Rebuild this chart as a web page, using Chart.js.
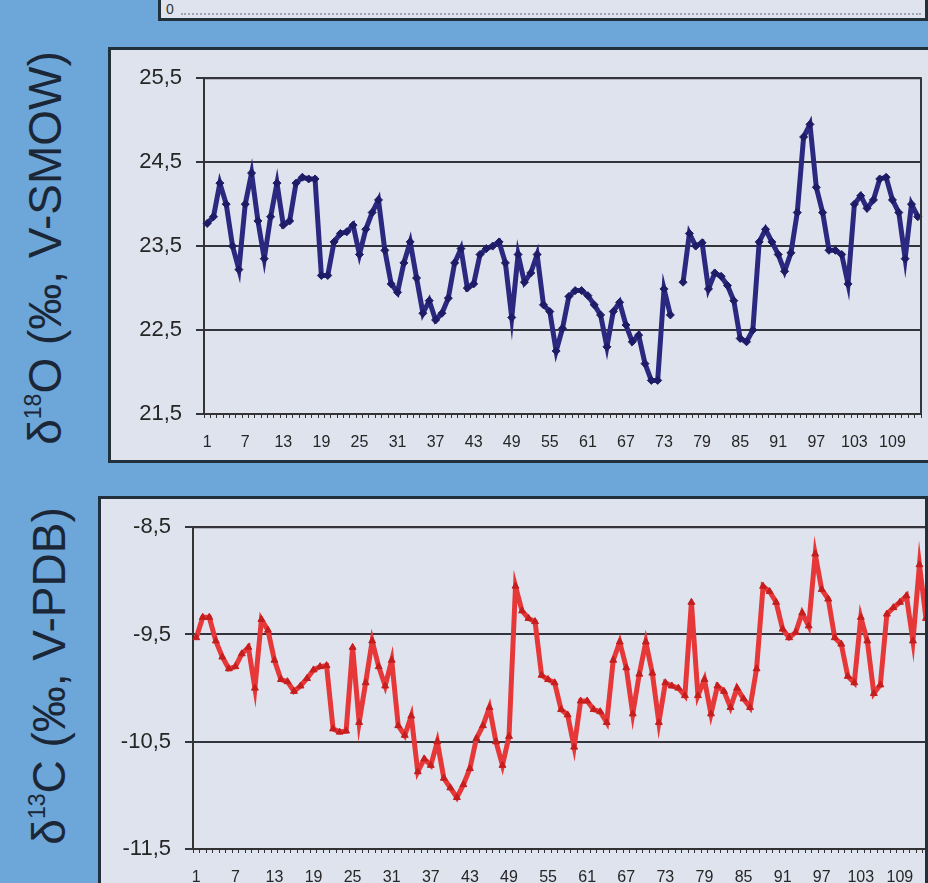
<!DOCTYPE html>
<html>
<head>
<meta charset="utf-8">
<script src="https://cdn.jsdelivr.net/npm/chart.js@4.4.1/dist/chart.umd.min.js"></script>
<style>
  html, body { margin: 0; padding: 0; }
  body {
    width: 928px; height: 883px; overflow: hidden; position: relative;
    background: #6da6d9; font-family: 'Liberation Sans', Arial, sans-serif;
  }
  .panel {
    position: absolute; box-sizing: border-box; overflow: hidden;
    background: #dfe3ee; border: 3px solid #22303c;
  }
  .panel canvas { position: absolute; }
  .axis-title {
    position: absolute; white-space: nowrap; color: #1b2636;
    font-size: 46px; line-height: 1;
    transform: translate(-50%, -50%) rotate(-90deg);
  }
  .axis-title sup { font-size: 0.5em; vertical-align: 0.9em; }
  #sliver-zero { position: absolute; left: 5px; font-size: 14px; color: #333; }
  #sliver-axis { position: absolute; left: 20px; right: 4px; border-top: 2px dotted #9aa6b8; }
</style>
</head>
<body>

<div class="panel" id="panel-prev" style="left:158px; top:-20px; width:770px; height:41px;">
  <div id="sliver-zero" style="top:18px;">0</div>
  <div id="sliver-axis" style="top:30px;"></div>
</div>

<div class="axis-title" style="left:45px; top:248px;">δ<sup>18</sup>O (‰, V-SMOW)</div>
<div class="panel" id="panel-o" style="left:108px; top:47px; width:900px; height:416px;">
  <canvas id="oxygenChart" width="830" height="409" style="left:0; top:1px;"></canvas>
</div>

<div class="axis-title" style="left:49px; top:676px;">δ<sup>13</sup>C (‰, V-PDB)</div>
<div class="panel" id="panel-c" style="left:98px; top:496px; width:830px; height:420px;">
  <canvas id="carbonChart" width="840" height="395" style="left:0; top:1px;"></canvas>
</div>

<script>
// --- Data ---
const sampleCount = 113;
const categories = Array.from({ length: sampleCount }, (_, i) => String(i + 1));
const shownTicks = ['1', '7', '13', '19', '25', '31', '37', '43', '49', '55', '61', '67', '73', '79', '85', '91', '97', '103', '109'];

// d18O, permil V-SMOW (one gap at sample 75)
const oxygenValues = [
    23.77, 23.85, 24.25, 24.0, 23.5, 23.22, 24.0, 24.37, 23.8, 23.35,
    23.85, 24.25, 23.75, 23.8, 24.25, 24.32, 24.3, 24.3, 23.15, 23.15,
    23.55, 23.65, 23.67, 23.75, 23.4, 23.7, 23.9, 24.05, 23.45, 23.05,
    22.95, 23.3, 23.55, 23.12, 22.7, 22.85, 22.62, 22.7, 22.88, 23.3,
    23.47, 23.0, 23.05, 23.4, 23.47, 23.5, 23.55, 23.3, 22.65, 23.4,
    23.07, 23.18, 23.4, 22.8, 22.72, 22.25, 22.52, 22.9, 22.97, 22.97,
    22.91, 22.8, 22.68, 22.3, 22.72, 22.83, 22.56, 22.36, 22.44, 22.1,
    21.9, 21.9, 22.99, 22.68, null, 23.07, 23.65, 23.5, 23.54, 22.99,
    23.18, 23.14, 23.03, 22.85, 22.4, 22.36, 22.5, 23.55, 23.7, 23.55,
    23.4, 23.2, 23.42, 23.9, 24.8, 24.95, 24.2, 23.9, 23.45, 23.45,
    23.4, 23.05, 24.0, 24.1, 23.95, 24.05, 24.3, 24.32, 24.05, 23.9,
    23.35, 24.0, 23.85
];

// d13C, permil V-PDB
const carbonValues = [
    -9.53, -9.34, -9.34, -9.56, -9.71, -9.82, -9.8, -9.68, -9.62, -10.0,
    -9.36, -9.46, -9.74, -9.92, -9.94, -10.03, -9.98, -9.91, -9.83, -9.8,
    -9.79, -10.38, -10.41, -10.4, -9.62, -10.32, -9.95, -9.56, -9.8, -9.98,
    -9.74, -10.35, -10.44, -10.26, -10.78, -10.66, -10.72, -10.5, -10.84, -10.93,
    -11.02, -10.9, -10.75, -10.47, -10.35, -10.18, -10.5, -10.72, -10.45, -9.05,
    -9.28, -9.35, -9.38, -9.88, -9.92, -9.95, -10.2, -10.25, -10.55, -10.12,
    -10.12, -10.2, -10.22, -10.32, -9.74, -9.57, -9.81, -10.24, -9.87, -9.57,
    -9.86, -10.32, -9.95, -9.98, -10.0, -10.07, -9.2, -10.07, -9.92, -10.24,
    -9.98, -10.03, -10.18, -10.0, -10.1, -10.18, -9.82, -9.05, -9.1, -9.2,
    -9.45, -9.53, -9.48, -9.3, -9.42, -8.75, -9.08, -9.17, -9.53, -9.59,
    -9.89, -9.95, -9.34, -9.56, -10.05, -9.97, -9.31, -9.25, -9.2, -9.14,
    -9.56, -8.85, -9.35
];

// --- Helpers ---
function commaDecimal(value) {
    return value.toFixed(1).replace('.', ',');
}

// draws the top/right frame of the plot area
const plotFrame = {
    id: 'plotFrame',
    afterDraw(chart) {
        const { ctx, chartArea } = chart;
        ctx.save();
        ctx.strokeStyle = '#34343c';
        ctx.lineWidth = 2;
        ctx.beginPath();
        ctx.moveTo(chartArea.left, chartArea.top);
        ctx.lineTo(chartArea.right, chartArea.top);
        ctx.lineTo(chartArea.right, chartArea.bottom);
        ctx.stroke();
        ctx.restore();
    }
};

function buildChart(canvasId, values, opts) {
    const ctx = document.getElementById(canvasId).getContext('2d');
    return new Chart(ctx, {
        type: 'line',
        data: {
            labels: categories,
            datasets: [{
                data: values,
                borderColor: opts.lineColor,
                backgroundColor: opts.markerColor,
                borderWidth: 5,
                pointStyle: opts.pointStyle,
                pointRadius: 4,
                pointBorderWidth: 1,
                pointBorderColor: opts.markerColor,
                tension: 0,
                spanGaps: false
            }]
        },
        options: {
            responsive: false,
            animation: false,
            devicePixelRatio: 1,
            layout: { padding: { left: 0, top: opts.padTop, right: opts.padRight, bottom: 0 } },
            plugins: { legend: { display: false }, tooltip: { enabled: false } },
            scales: {
                x: {
                    type: 'category',
                    offset: true,
                    afterFit(scale) { scale.height = opts.xHeight; },
                    grid: { drawOnChartArea: false, offset: true, tickLength: 4, color: '#333', lineWidth: 1 },
                    border: { display: true, color: '#333', width: 2 },
                    ticks: {
                        autoSkip: false, maxRotation: 0, padding: 15,
                        color: '#262626',
                        font: { family: "'Liberation Sans Narrow', 'Liberation Sans', Arial", size: 16 },
                        callback(val, idx) {
                            const lab = categories[idx];
                            return shownTicks.includes(lab) ? lab : '';
                        }
                    }
                },
                y: {
                    min: opts.yMin, max: opts.yMax,
                    afterFit(scale) { scale.width = opts.yWidth; },
                    grid: { color: '#34343c', lineWidth: 2, tickLength: 8 },
                    border: { display: true, color: '#333', width: 2 },
                    ticks: {
                        stepSize: 1, padding: 14, color: '#262626',
                        font: { family: "'Liberation Sans', Arial", size: 22 },
                        callback: value => commaDecimal(value)
                    }
                }
            }
        },
        plugins: [plotFrame]
    });
}

// --- Charts ---
buildChart('oxygenChart', oxygenValues, {
    lineColor: '#2b2880', markerColor: '#1e1c66', pointStyle: 'rectRot',
    yMin: 21.5, yMax: 25.5, yWidth: 93, xHeight: 46, padTop: 21, padRight: 20
});

buildChart('carbonChart', carbonValues, {
    lineColor: '#e63838', markerColor: '#c41e1e', pointStyle: 'triangle',
    yMin: -11.5, yMax: -8.5, yWidth: 92, xHeight: 46, padTop: 21, padRight: 8
});
</script>
</body>
</html>
